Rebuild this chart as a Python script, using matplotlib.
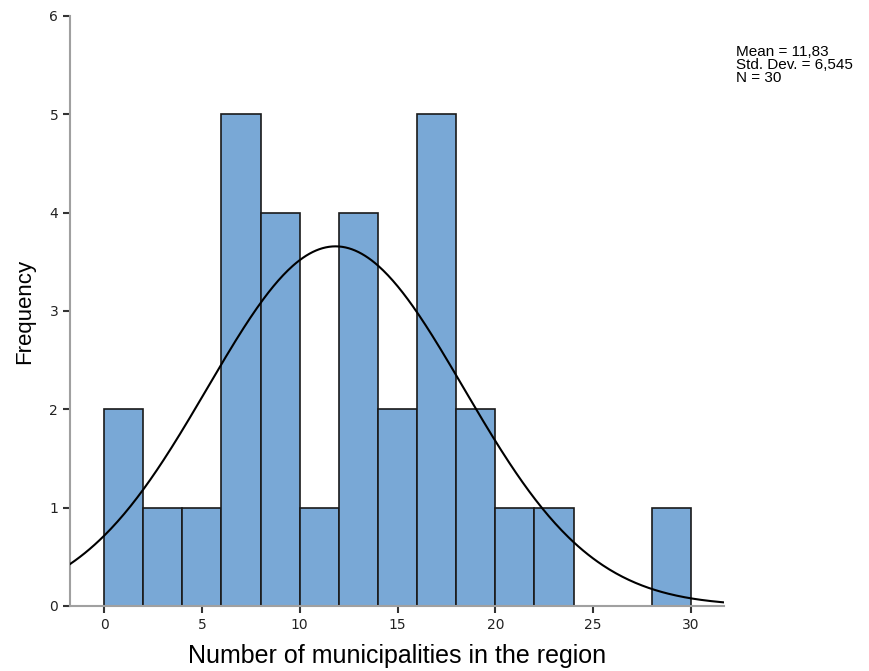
import matplotlib
matplotlib.use('Agg')
import matplotlib.pyplot as plt
import numpy as np

# histogram data (bin width 2)
bin_edges = [0, 2, 4, 6, 8, 10, 12, 14, 16, 18, 20, 22, 24, 26, 28, 30]
counts = [2, 1, 1, 5, 4, 1, 4, 2, 5, 2, 1, 1, 0, 0, 1]
mean = 11.83
std = 6.545
n = 30

fig = plt.figure(figsize=(8.69, 6.71), dpi=100)
ax = fig.add_axes([0.0806, 0.0969, 0.7526, 0.8793])

ax.bar(bin_edges[:-1], counts, width=2, align='edge', color='#79a8d6',
       edgecolor='#1a1a1a', linewidth=1.2, zorder=2)

# normal curve scaled to counts
xlim = (-1.74, 31.69)
xs = np.linspace(xlim[0], xlim[1], 400)
bw = bin_edges[1] - bin_edges[0]
ys = n * bw / (std * np.sqrt(2 * np.pi)) * np.exp(-0.5 * ((xs - mean) / std) ** 2)
ax.plot(xs, ys, color='black', linewidth=1.5, zorder=3)

ax.set_xlim(xlim)
ax.set_ylim(0, 6)
ax.set_xticks([0, 5, 10, 15, 20, 25, 30])
ax.set_yticks(range(7))

for side in ['top', 'right']:
    ax.spines[side].set_visible(False)
for side in ['left', 'bottom']:
    ax.spines[side].set_color('#a0a0a0')
    ax.spines[side].set_linewidth(1.5)
ax.tick_params(direction='out', length=5, width=1.5, color='#333333',
               labelsize=10, labelcolor='#222222')

ax.set_xlabel('Number of municipalities in the region', fontsize=18,
              family='Liberation Sans', labelpad=9)
ax.set_ylabel('Frequency', fontsize=16, family='Liberation Sans', labelpad=10)

mean_txt = f'{mean:.2f}'.replace('.', ',')
std_txt = f'{std:.3f}'.replace('.', ',')
fig.text(0.847, 0.933, f'Mean = {mean_txt}\nStd. Dev. = {std_txt}\nN = {n}',
         fontsize=11, family='Liberation Sans', va='top', ha='left',
         linespacing=0.92)

fig.savefig('out.png', dpi=100)
